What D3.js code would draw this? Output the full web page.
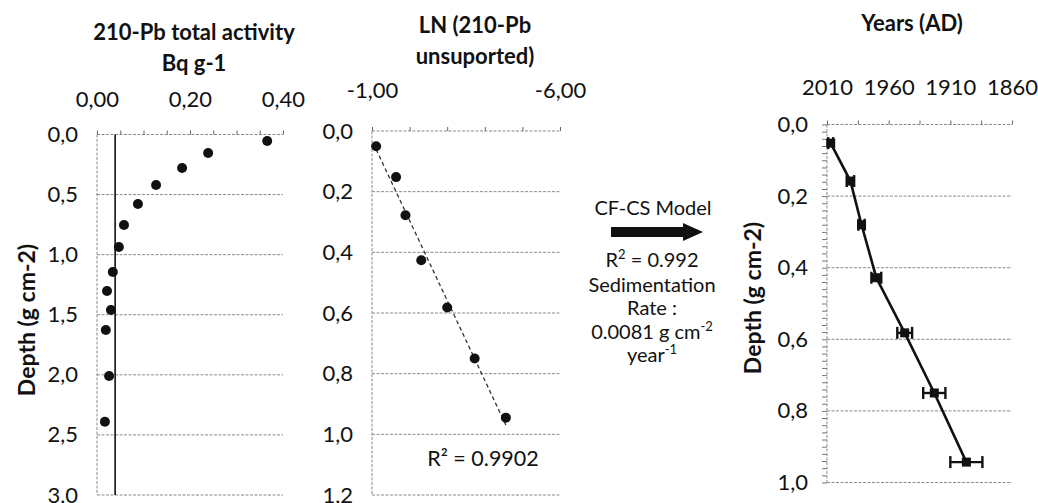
<!DOCTYPE html>
<html>
<head>
<meta charset="utf-8">
<script src="https://cdn.jsdelivr.net/npm/d3@7"></script>
<style>
  body { margin: 0; background: #fff; }
  text { font-family: Lato, "Open Sans", sans-serif; fill: #111; }
</style>
</head>
<body>
<div id="chart"></div>
<script>
// panel 1: total 210-Pb activity vs depth
const depthAct = [0.054, 0.154, 0.279, 0.42, 0.578, 0.753, 0.936, 1.144, 1.302, 1.46, 1.627, 2.01, 2.39];
const activity = [0.366, 0.239, 0.183, 0.127, 0.088, 0.058, 0.047, 0.034, 0.0215, 0.030, 0.019, 0.026, 0.017];
const supported = 0.039;
const actTicks = [0, 0.2, 0.4];
const actMinor = [0, 0.05, 0.1, 0.15, 0.2, 0.25, 0.3, 0.35, 0.4];
const depthTicks1 = [0, 0.5, 1, 1.5, 2, 2.5, 3];

// panel 2: LN of unsupported activity
const depthLn = [0.05, 0.152, 0.278, 0.426, 0.582, 0.75, 0.945];
const lnUnsup = [-1.11, -1.64, -1.89, -2.31, -3.0, -3.73, -4.56];
const lnTicks = [-1, -6];
const lnMinor = [-1, -2, -3, -4, -5, -6];
const depthTicks2 = [0, 0.2, 0.4, 0.6, 0.8, 1.0, 1.2];

// panel 3: CF-CS age model
const depthAge = [0.052, 0.158, 0.28, 0.428, 0.582, 0.75, 0.943];
const years = [2007, 1991, 1982, 1970, 1947, 1923, 1897];
const yearErr = [2, 3, 2.5, 4, 6, 9, 13];
const yearTicks = [2010, 1960, 1910, 1860];
const yearMinor = [2010, 1985, 1960, 1935, 1910, 1885, 1860];
const depthTicks3 = [0, 0.2, 0.4, 0.6, 0.8, 1.0];

const loc = d3.formatLocale({decimal: ",", thousands: ".", grouping: [3], currency: ["", ""], minus: "-"});
const f1 = loc.format(".1f"), f2 = loc.format(".2f");

const width = 1038, height = 503;
const tickFont = "22px", titleFont = "22px", noteFont = "20px";

const svg = d3.select("#chart").append("svg")
  .attr("width", width)
  .attr("height", height);
svg.append("rect").attr("width", width).attr("height", height).attr("fill", "#fff");

const gridColor = "#8a8a8a";

function panel(o) {
  const x = d3.scaleLinear().domain(o.xDomain).range([o.left, o.right]);
  const y = d3.scaleLinear().domain(o.yDomain).range([o.top, o.bottom]);
  const g = svg.append("g");

  // horizontal gridlines (dotted, scanned look)
  g.selectAll(".grid").data(o.yTicks).enter().append("line")
    .attr("x1", o.left).attr("x2", o.right)
    .attr("y1", d => y(d)).attr("y2", d => y(d))
    .attr("stroke", gridColor).attr("stroke-width", 1)
    .attr("stroke-dasharray", "3,1.5");

  // left axis line
  g.append("line")
    .attr("x1", o.left).attr("x2", o.left)
    .attr("y1", o.top).attr("y2", o.bottom)
    .attr("stroke", gridColor).attr("stroke-dasharray", "3,1.5");

  // top axis minor ticks
  g.append("g")
    .attr("transform", "translate(0," + o.top + ")")
    .call(d3.axisTop(x).tickValues(o.xMinor).tickSize(4).tickFormat(""))
    .call(a => a.select(".domain").remove())
    .selectAll("line").attr("stroke", "#666");

  // top axis labels
  g.append("g")
    .attr("transform", "translate(0," + o.top + ")")
    .call(d3.axisTop(x).tickValues(o.xTicks).tickSize(0).tickPadding(o.xPad).tickFormat(o.xFmt))
    .call(a => a.select(".domain").remove())
    .selectAll("text")
    .style("font-size", tickFont).style("font-family", "Lato, sans-serif").attr("fill", "#111");

  // left axis labels
  g.append("g")
    .attr("transform", "translate(" + o.left + ",0)")
    .call(d3.axisLeft(y).tickValues(o.yTicks).tickSize(0).tickPadding(19).tickFormat(f1))
    .call(a => a.select(".domain").remove())
    .selectAll("text")
    .style("font-size", tickFont).style("font-family", "Lato, sans-serif").attr("fill", "#111");

  // title lines
  o.title.forEach((t, i) => {
    g.append("text")
      .attr("x", o.titleX).attr("y", o.titleY + i * 31)
      .attr("text-anchor", "middle")
      .style("font-size", titleFont).style("font-weight", "bold")
      .text(t);
  });

  return {x, y, g};
}

// ---------- panel 1 ----------
const p1 = panel({
  left: 97, right: 283, top: 134.5, bottom: 495,
  xDomain: [0, 0.4], yDomain: [0, 3],
  xTicks: actTicks, xMinor: actMinor, xFmt: f2, xPad: 28,
  yTicks: depthTicks1,
  title: ["210-Pb total activity", "Bq g-1"], titleX: 194, titleY: 40
});

p1.g.append("line")
  .attr("x1", p1.x(supported)).attr("x2", p1.x(supported))
  .attr("y1", p1.y(0)).attr("y2", p1.y(3))
  .attr("stroke", "#111").attr("stroke-width", 1.6);

p1.g.selectAll(".dot").data(activity).enter().append("circle")
  .attr("cx", d => p1.x(d))
  .attr("cy", (d, i) => p1.y(depthAct[i]))
  .attr("r", 5)
  .attr("fill", "#111");

svg.append("text")
  .attr("transform", "translate(35,320) rotate(-90)")
  .attr("text-anchor", "middle")
  .style("font-size", "23px").style("font-weight", "bold")
  .text("Depth (g cm-2)");

// ---------- panel 2 ----------
const p2 = panel({
  left: 372, right: 560, top: 131, bottom: 495,
  xDomain: [-1, -6], yDomain: [0, 1.2],
  xTicks: lnTicks, xMinor: lnMinor, xFmt: f2, xPad: 33,
  yTicks: depthTicks2,
  title: ["LN (210-Pb", "unsuported)"], titleX: 475, titleY: 33
});

// linear trendline (least squares of depth on LN)
const mx = d3.mean(lnUnsup), my = d3.mean(depthLn);
const slope = d3.sum(lnUnsup, (v, i) => (v - mx) * (depthLn[i] - my)) / d3.sum(lnUnsup, v => (v - mx) * (v - mx));
const icpt = my - slope * mx;
const ext = d3.extent(lnUnsup);
const trend = [ext[1], ext[0]].map(v => [v, icpt + slope * v]);

p2.g.append("path")
  .datum(trend)
  .attr("d", d3.line().x(d => p2.x(d[0])).y(d => p2.y(d[1])))
  .attr("fill", "none").attr("stroke", "#333")
  .attr("stroke-width", 1.3).attr("stroke-dasharray", "4,3");

p2.g.selectAll(".dot").data(lnUnsup).enter().append("circle")
  .attr("cx", d => p2.x(d))
  .attr("cy", (d, i) => p2.y(depthLn[i]))
  .attr("r", 5)
  .attr("fill", "#111");

p2.g.append("text")
  .attr("x", 483).attr("y", 466)
  .attr("text-anchor", "middle")
  .style("font-size", "21.5px")
  .text("R² = 0.9902");

// ---------- arrow + model text ----------
const mid = svg.append("g");
mid.append("text").attr("x", 653).attr("y", 215).attr("text-anchor", "middle")
  .style("font-size", noteFont).text("CF-CS Model");
mid.append("path")
  .attr("d", "M611,227 L683,227 L683,223 L703,232 L683,241 L683,237 L611,237 Z")
  .attr("fill", "#111");

const r2 = mid.append("text").attr("x", 652).attr("y", 267).attr("text-anchor", "middle")
  .style("font-size", noteFont);
r2.append("tspan").text("R");
r2.append("tspan").attr("dy", -8).style("font-size", "13px").text("2");
r2.append("tspan").attr("dy", 8).text(" = 0.992");

mid.append("text").attr("x", 652).attr("y", 292).attr("text-anchor", "middle")
  .style("font-size", noteFont).text("Sedimentation");
mid.append("text").attr("x", 652).attr("y", 315).attr("text-anchor", "middle")
  .style("font-size", noteFont).text("Rate :");

const sr = mid.append("text").attr("x", 652).attr("y", 339).attr("text-anchor", "middle")
  .style("font-size", noteFont);
sr.append("tspan").text("0.0081 g cm");
sr.append("tspan").attr("dy", -8).style("font-size", "13px").text("-2");

const yr = mid.append("text").attr("x", 652).attr("y", 362).attr("text-anchor", "middle")
  .style("font-size", noteFont);
yr.append("tspan").text("year");
yr.append("tspan").attr("dy", -8).style("font-size", "13px").text("-1");

// ---------- panel 3 ----------
const p3 = panel({
  left: 827, right: 1012, top: 124.5, bottom: 482.5,
  xDomain: [2010, 1860], yDomain: [0, 1.0],
  xTicks: yearTicks, xMinor: yearMinor, xFmt: d3.format("d"), xPad: 30,
  yTicks: depthTicks3,
  title: ["Years (AD)"], titleX: 912, titleY: 31
});

// minor depth ticks every 0.02
p3.g.append("g")
  .attr("transform", "translate(827,0)")
  .call(d3.axisLeft(p3.y).tickValues(d3.range(0, 51).map(i => i * 0.02)).tickSize(5).tickFormat(""))
  .call(a => a.select(".domain").remove())
  .selectAll("line").attr("stroke", "#777");

p3.g.append("path")
  .datum(years)
  .attr("d", d3.line().x(d => p3.x(d)).y((d, i) => p3.y(depthAge[i])))
  .attr("fill", "none").attr("stroke", "#111").attr("stroke-width", 2.6);

const eb = p3.g.selectAll(".err").data(years).enter().append("g");
eb.append("line")
  .attr("x1", (d, i) => p3.x(d + yearErr[i])).attr("x2", (d, i) => p3.x(d - yearErr[i]))
  .attr("y1", (d, i) => p3.y(depthAge[i])).attr("y2", (d, i) => p3.y(depthAge[i]))
  .attr("stroke", "#111").attr("stroke-width", 2.4);
eb.append("line")
  .attr("x1", (d, i) => p3.x(d + yearErr[i])).attr("x2", (d, i) => p3.x(d + yearErr[i]))
  .attr("y1", (d, i) => p3.y(depthAge[i]) - 6).attr("y2", (d, i) => p3.y(depthAge[i]) + 6)
  .attr("stroke", "#111").attr("stroke-width", 2.4);
eb.append("line")
  .attr("x1", (d, i) => p3.x(d - yearErr[i])).attr("x2", (d, i) => p3.x(d - yearErr[i]))
  .attr("y1", (d, i) => p3.y(depthAge[i]) - 6).attr("y2", (d, i) => p3.y(depthAge[i]) + 6)
  .attr("stroke", "#111").attr("stroke-width", 2.4);
eb.append("rect")
  .attr("x", d => p3.x(d) - 4.5)
  .attr("y", (d, i) => p3.y(depthAge[i]) - 4.5)
  .attr("width", 9).attr("height", 9)
  .attr("fill", "#111");

svg.append("text")
  .attr("transform", "translate(761,298) rotate(-90)")
  .attr("text-anchor", "middle")
  .style("font-size", "23px").style("font-weight", "bold")
  .text("Depth (g cm-2)");
</script>
</body>
</html>
